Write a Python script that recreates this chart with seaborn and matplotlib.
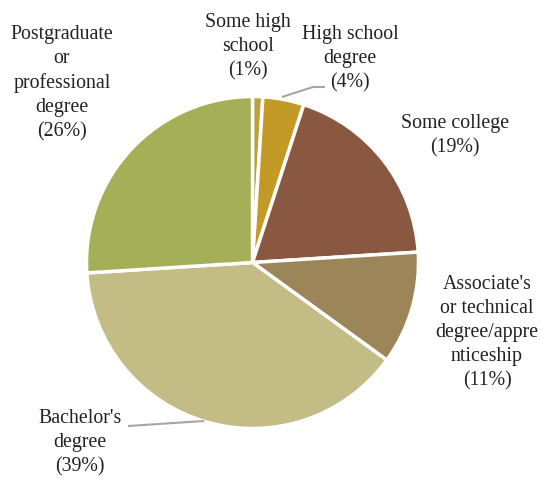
import matplotlib
matplotlib.use("Agg")
import matplotlib.pyplot as plt
import seaborn as sns

# Highest level of education attained (share of respondents, %)
categories = [
    "Some high\nschool",
    "High school\ndegree",
    "Some college",
    "Associate's\nor technical\ndegree/appre\nnticeship",
    "Bachelor's\ndegree",
    "Postgraduate\nor\nprofessional\ndegree",
]
shares = [1, 4, 19, 11, 39, 26]
slice_colors = ["#BFA040", "#C49A26", "#8A5840", "#9D855A", "#C3BC84", "#A5AF58"]

sns.set_theme(style="white")
plt.rcParams["font.family"] = ["Liberation Serif", "DejaVu Serif"]

fig = plt.figure(figsize=(5.43, 4.78), dpi=100)
ax = fig.add_axes([0, 0, 1, 1])

palette = sns.color_palette(slice_colors)
ax.pie(
    shares,
    colors=palette,
    center=(252.5, 262.5),
    radius=166,
    startangle=-90,
    counterclock=True,
    frame=True,
    wedgeprops=dict(edgecolor="white", linewidth=2.5),
)
ax.set_xlim(0, 543)
ax.set_ylim(478, 0)
ax.set_aspect("equal")
ax.axis("off")

# label anchor points (pixel space, y downwards)
label_pos = [
    (248, 47),
    (350, 59),
    (455, 136),
    (487, 333),
    (80, 443),
    (62, 83),
]
for name, val, (x, y) in zip(categories, shares, label_pos):
    ax.text(x, y, f"{name}\n({val}%)", ha="center", va="center",
            fontsize=14.3, color="#222222", linespacing=1.36)

# leader lines
line_kw = dict(color="#A6A6A6", linewidth=1.5, solid_capstyle="butt")
ax.plot([282, 313, 325], [97, 87, 87], **line_kw)
ax.plot([128, 204], [426, 421], **line_kw)

fig.savefig("out.png", dpi=100)
